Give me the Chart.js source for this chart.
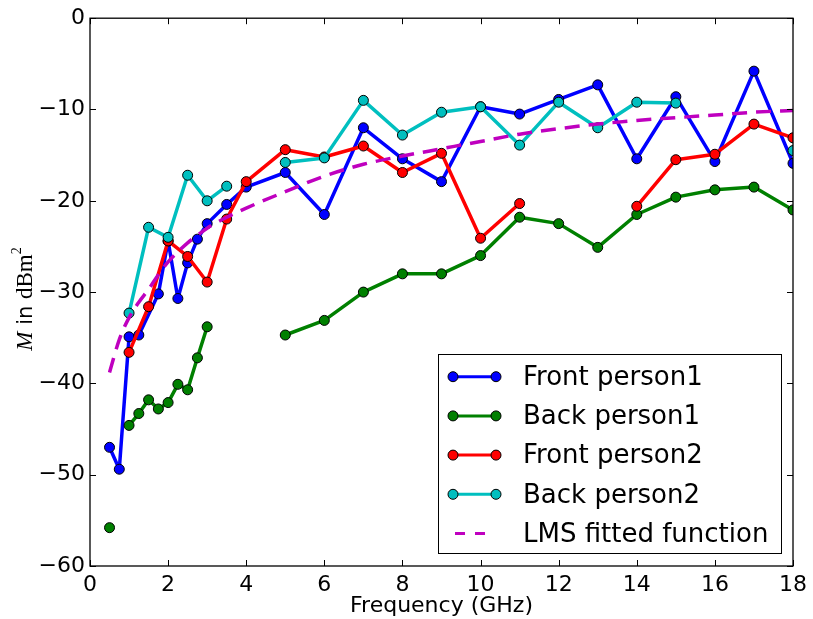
<!DOCTYPE html>
<html>
<head>
<meta charset="utf-8">
<script src="https://cdn.jsdelivr.net/npm/chart.js@4/dist/chart.umd.min.js"></script>
<style>
  html, body { margin: 0; padding: 0; background: #fff; }
  #wrap { width: 813px; height: 619px; position: relative; }
</style>
</head>
<body>
<div id="wrap"><canvas id="c" width="813" height="619"></canvas></div>
<script>
// ---- data; null = missing value, line breaks there ----
const freqFine   = [0.5, 0.75, 1, 1.25, 1.5, 1.75, 2, 2.25, 2.5, 2.75, 3, 3.5, 4, 5, 6, 7, 8, 9, 10, 11, 12, 13, 14, 15, 16, 17, 18];
const freqFront1 = [0.5, 0.75, 1, 1.25, 1.75, 2, 2.25, 2.5, 2.75, 3, 3.5, 4, 5, 6, 7, 8, 9, 10, 11, 12, 13, 14, 15, 16, 17, 18];
const freqP2     = [1, 1.5, 2, 2.5, 3, 3.5, 4, 5, 6, 7, 8, 9, 10, 11, 12, 13, 14, 15, 16, 17, 18];

const frontPerson1 = [-47.0, -49.4, -34.9, -34.7, -30.2, -24.4, -30.7, -26.8, -24.2, -22.5, -20.4, -18.5, -16.9, -21.5, -12.0, -15.4, -17.9, -9.7, -10.5, -8.9, -7.3, -15.4, -8.6, -15.7, -5.8, -15.9];
const backPerson1  = [-55.8, null, -44.6, -43.3, -41.8, -42.8, -42.1, -40.1, -40.7, -37.2, -33.8, null, null, -34.7, -33.1, -30.0, -28.0, -28.0, -26.0, -21.8, -22.5, -25.1, -21.5, -19.6, -18.8, -18.5, -21.0];
const frontPerson2 = [-36.6, -31.6, -24.4, -26.1, -28.9, -22.0, -17.9, -14.4, -15.2, -14.0, -16.9, -14.8, -24.1, -20.3, null, null, -20.6, -15.5, -14.9, -11.6, -13.1];
const backPerson2  = [-32.3, -22.9, -24.0, -17.2, -20.0, -18.4, null, -15.8, -15.3, -9.0, -12.8, -10.3, -9.7, -13.9, -9.2, -12.0, -9.2, -9.3, null, null, -14.5];
const lmsFit       = [-38.8, -35.2, -32.8, -31.1, -29.7, -28.1, -26.7, -25.6, -24.6, -23.8, -23.0, -21.8, -20.8, -19.0, -17.3, -16.0, -15.1, -14.3, -13.5, -12.7, -12.1, -11.6, -11.2, -10.9, -10.6, -10.3, -10.1];

const seriesLabels = ['Front person1', 'Back person1', 'Front person2', 'Back person2', 'LMS fitted function'];
const xTicks = [0, 2, 4, 6, 8, 10, 12, 14, 16, 18];
const yTicks = [0, -10, -20, -30, -40, -50, -60];
const xTitle = 'Frequency (GHz)';

// ---- build ----
function pts(freqs, vals) { return freqs.map((f, i) => ({ x: f, y: vals[i] })); }
const colors = ['#0000ff', '#008000', '#ff0000', '#00bfbf', '#bf00bf'];

function lineSet(label, freqs, vals, color, order) {
  return {
    label, data: pts(freqs, vals), borderColor: color, backgroundColor: color,
    borderWidth: 3.5, pointRadius: 5, pointBorderColor: '#000', pointBorderWidth: 1,
    pointBackgroundColor: color, pointHoverRadius: 5, tension: 0, order, spanGaps: false
  };
}

const datasets = [
  lineSet(seriesLabels[0], freqFront1, frontPerson1, colors[0], 5),
  lineSet(seriesLabels[1], freqFine, backPerson1, colors[1], 4),
  lineSet(seriesLabels[2], freqP2, frontPerson2, colors[2], 3),
  lineSet(seriesLabels[3], freqP2, backPerson2, colors[3], 2),
  {
    label: seriesLabels[4], data: pts(freqFine, lmsFit), borderColor: colors[4], borderWidth: 3.5,
    borderDash: [15, 9], pointRadius: 0, cubicInterpolationMode: 'monotone', order: 1
  }
];

const minus = s => String(s).replace('-', '\u2212');

const decor = {
  id: 'decor',
  afterDraw(chart) {
    const ctx = chart.ctx, a = chart.chartArea;
    const xs = chart.scales.x, ys = chart.scales.y;
    ctx.save();
    // frame
    ctx.strokeStyle = '#000'; ctx.lineWidth = 1.3;
    ctx.strokeRect(a.left, a.top, a.right - a.left, a.bottom - a.top);
    // inward ticks
    ctx.lineWidth = 1;
    const tl = 6;
    xs.ticks.forEach(t => {
      const px = Math.round(xs.getPixelForValue(t.value)) + 0.5;
      ctx.beginPath();
      ctx.moveTo(px, a.bottom); ctx.lineTo(px, a.bottom - tl);
      ctx.moveTo(px, a.top); ctx.lineTo(px, a.top + tl);
      ctx.stroke();
    });
    ys.ticks.forEach(t => {
      const py = Math.round(ys.getPixelForValue(t.value)) + 0.5;
      ctx.beginPath();
      ctx.moveTo(a.left, py); ctx.lineTo(a.left + tl, py);
      ctx.moveTo(a.right, py); ctx.lineTo(a.right - tl, py);
      ctx.stroke();
    });

    // y title: M in dBm^2
    ctx.save();
    ctx.translate(32, 299);
    ctx.rotate(-Math.PI / 2);
    ctx.fillStyle = '#000';
    ctx.textBaseline = 'alphabetic';
    const parts = [
      { t: 'M', f: 'italic 23px "Liberation Serif", serif', dy: 0 },
      { t: ' in ', f: '21px "DejaVu Sans", sans-serif', dy: 0 },
      { t: 'dBm', f: '23px "Liberation Serif", serif', dy: 0 },
      { t: '2', f: '14px "Liberation Serif", serif', dy: -11 }
    ];
    let total = 0;
    parts.forEach(p => { ctx.font = p.f; p.w = ctx.measureText(p.t).width; total += p.w; });
    let x = -total / 2;
    parts.forEach(p => { ctx.font = p.f; ctx.fillText(p.t, x, p.dy); x += p.w; });
    ctx.restore();

    // legend
    const L = { x: 438, y: 354, w: 343, h: 199 };
    ctx.fillStyle = '#fff';
    ctx.fillRect(L.x, L.y, L.w, L.h);
    ctx.strokeStyle = '#000'; ctx.lineWidth = 1;
    ctx.strokeRect(L.x + 0.5, L.y + 0.5, L.w, L.h);
    const baselines = [385, 424.2, 463.4, 502.6, 541.8];
    chart.data.datasets.forEach((ds, i) => {
      const by = baselines[i];
      const cy = by - 8.3;
      ctx.save();
      ctx.strokeStyle = ds.borderColor;
      ctx.lineWidth = 3;
      if (ds.borderDash) {
        ctx.setLineDash([10, 10]);
        ctx.beginPath(); ctx.moveTo(455, cy); ctx.lineTo(495, cy); ctx.stroke();
      } else {
        ctx.beginPath(); ctx.moveTo(453, cy); ctx.lineTo(496, cy); ctx.stroke();
        [453, 496].forEach(mx => {
          ctx.beginPath(); ctx.arc(mx, cy, 5, 0, Math.PI * 2);
          ctx.fillStyle = ds.pointBackgroundColor; ctx.fill();
          ctx.lineWidth = 1; ctx.strokeStyle = '#000'; ctx.stroke();
        });
      }
      ctx.restore();
      ctx.fillStyle = '#000';
      ctx.font = '26px "DejaVu Sans", sans-serif';
      ctx.textBaseline = 'alphabetic';
      ctx.fillText(ds.label, 523, by);
    });
    ctx.restore();
  }
};

new Chart(document.getElementById('c'), {
  type: 'line',
  data: { datasets },
  options: {
    responsive: false,
    animation: false,
    devicePixelRatio: 1,
    layout: { padding: { top: 18, right: 18, left: 0, bottom: 0 } },
    plugins: { legend: { display: false }, tooltip: { enabled: false } },
    elements: { line: { borderCapStyle: 'butt', borderJoinStyle: 'round' } },
    scales: {
      x: {
        type: 'linear', min: 0, max: 18,
        afterFit(s) { s.height = 53; },
        afterBuildTicks(s) { s.ticks = xTicks.map(v => ({ value: v })); },
        grid: { display: false, drawTicks: false },
        border: { display: false },
        ticks: { padding: 6, color: '#000', font: { family: '"DejaVu Sans", sans-serif', size: 22 }, callback: v => minus(v), maxRotation: 0, autoSkip: false },
        title: { display: true, text: xTitle, color: '#000', font: { family: '"DejaVu Sans", sans-serif', size: 22, lineHeight: 1.18 }, padding: 0 }
      },
      y: {
        type: 'linear', min: -60, max: 0,
        afterFit(s) { s.width = 90; },
        afterBuildTicks(s) { s.ticks = yTicks.map(v => ({ value: v })); },
        grid: { display: false, drawTicks: false },
        border: { display: false },
        ticks: { padding: 5, color: '#000', font: { family: '"DejaVu Sans", sans-serif', size: 22 }, callback: v => minus(v), autoSkip: false }
      }
    }
  },
  plugins: [decor]
});
</script>
</body>
</html>
